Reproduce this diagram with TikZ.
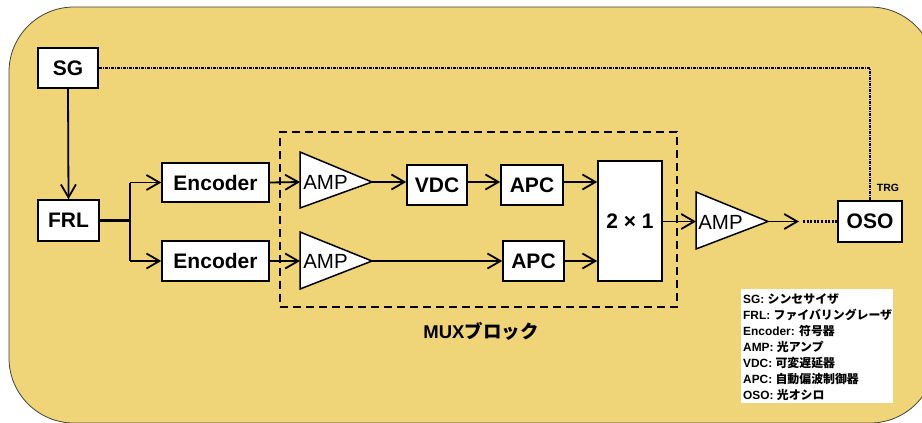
\documentclass[tikz,border=0pt]{standalone}
\usepackage{fontspec}
\setmainfont{Liberation Sans}
\newfontfamily\jp{Noto Sans CJK JP Bold}
\usetikzlibrary{arrows.meta}
\definecolor{bgy}{RGB}{240,213,120}
\begin{document}
\begin{tikzpicture}[x=1pt,y=-1pt,
  box/.style={draw, fill=white, line width=1.5pt, inner sep=0pt,
    font=\bfseries\fontsize{21}{25}\selectfont},
  ampst/.style={draw, fill=white, line width=1.5pt, line join=miter},
  amptxt/.style={inner sep=0pt, font=\fontsize{20.5}{24}\selectfont},
  arr/.style={-{Straight Barb[length=13pt,width=15pt]}},
  conn/.style={line width=1.8pt, arr},
  thickconn/.style={line width=2.6pt},
  trgline/.style={line width=1.6pt, dash pattern=on 3pt off 1pt on 1pt off 1pt},
  dotline/.style={line width=2.6pt, dash pattern=on 2pt off 1.6pt},
  muxdash/.style={draw, line width=2.2pt, dash pattern=on 8pt off 5pt, inner sep=0pt}]
\useasboundingbox (0,0) rectangle (922,423);
\begin{scope}
  \clip (0,0) rectangle (922,423);
  \draw[fill=bgy, draw=black!75, line width=0.8pt, rounded corners=65pt] (9,7) rectangle (935,423);
\end{scope}

% MUX block
\node (muxblk) [muxdash, minimum width=397pt, minimum height=175pt] at (478.5,219.5) {};
\node (muxlbl) [inner sep=0pt, font=\bfseries\fontsize{18.5}{22}\selectfont] at (481,331) {MUX{\jp ブロック}};

% boxes
\node (SG)  [box, minimum width=60pt, minimum height=40pt] at (68,68) {SG};
\node (FRL) [box, minimum width=61pt, minimum height=41pt] at (68.5,220.5) {FRL};
\node (enc1) [box, minimum width=107pt, minimum height=39pt] at (215.5,182.5) {Encoder};
\node (enc2) [box, minimum width=107pt, minimum height=40pt] at (215.5,261) {Encoder};
\node (vdc) [box, minimum width=60pt, minimum height=40pt] at (437,185) {VDC};
\node (apc1) [box, minimum width=62pt, minimum height=40pt] at (532,185) {APC};
\node (apc2) [box, minimum width=61pt, minimum height=40pt] at (533.5,261) {APC};
\node (mux) [box, minimum width=64pt, minimum height=120pt] at (630,221) {2 × 1};
\node (oso) [box, minimum width=64pt, minimum height=41pt] at (870,221.5) {OSO};

% amplifiers
\draw[ampst] (300,152) -- (372,182) -- (300,208) -- cycle;
\coordinate (amp1w) at (300,182);
\coordinate (amp1e) at (372,182);
\node (amp1t) [amptxt] at (325.5,182) {AMP};
\draw[ampst] (300,232) -- (372,261) -- (300,289) -- cycle;
\coordinate (amp2w) at (300,261);
\coordinate (amp2e) at (372,261);
\node (amp2t) [amptxt] at (325.5,261) {AMP};
\draw[ampst] (696,192) -- (768,221.5) -- (696,249) -- cycle;
\coordinate (amp3w) at (696,221.5);
\coordinate (amp3e) at (768,221.5);
\node (amp3t) [amptxt] at (720.5,222) {AMP};

% connectors
\draw[conn] (SG.south) -- (FRL.north);
\coordinate (br) at (130,220.5);
\draw[thickconn] (FRL.east) -- (br);
\draw[thickconn] (br |- enc1.west) -- (br |- enc2.west);
\draw[conn] (br |- enc1.west) -- (enc1.west);
\draw[conn] (br |- enc2.west) -- (enc2.west);
\draw[conn] (enc1.east) -- (amp1w);
\draw[conn] (enc2.east) -- (amp2w);
\draw[conn] (amp1e) -- (amp1e -| vdc.west);
\draw[conn] (vdc.east |- amp1e) -- (apc1.west |- amp1e);
\draw[conn] (apc1.east |- amp1e) -- (mux.west |- amp1e);
\draw[conn] (amp2e) -- (apc2.west);
\draw[conn] (apc2.east) -- (mux.west |- apc2.east);
\draw[conn] (mux.east |- amp3w) -- (amp3w);
\coordinate (oarr) at (799,221.5);
\draw[conn] (amp3e) -- (oarr);
\draw[dotline] ([xshift=4pt]oarr) -- (oso.west);
\draw[trgline] (SG.east) -| (oso.north);
\node (trg) [inner sep=0pt, font=\bfseries\fontsize{10.5}{12}\selectfont] at (888,187.5) {TRG};

% legend
\node (legbg) [fill=white, inner sep=0pt, minimum width=152pt, minimum height=114pt] at (817,346) {};
\node (leg) [anchor=west, align=left, inner sep=0pt,
  font=\bfseries\fontsize{11.9}{16}\selectfont] at (743,347.5)
  {SG: {\jp シンセサイザ}\\
   FRL: {\jp ファイバリングレーザ}\\
   Encoder: {\jp 符号器}\\
   AMP: {\jp 光アンプ}\\
   VDC: {\jp 可変遅延器}\\
   APC: {\jp 自動偏波制御器}\\
   OSO: {\jp 光オシロ}};
\end{tikzpicture}
\end{document}
